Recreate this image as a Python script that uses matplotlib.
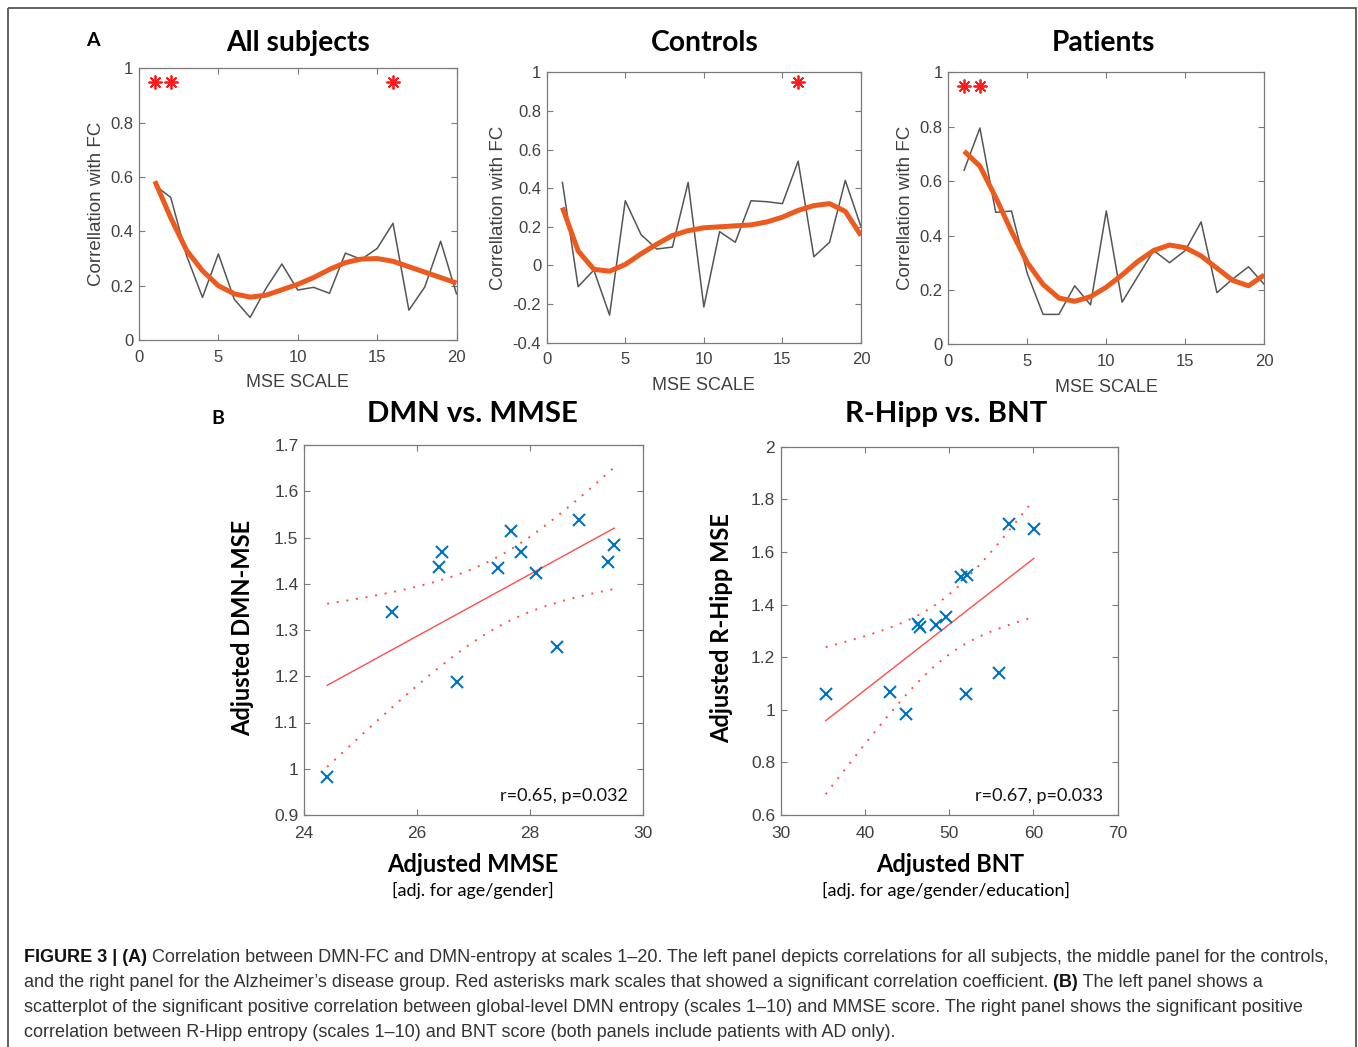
import numpy as np
import matplotlib
matplotlib.use('Agg')
import matplotlib.pyplot as plt
from matplotlib.patches import Rectangle
from matplotlib.ticker import FuncFormatter

W, H = 1358, 1047
plt.rcParams['axes.unicode_minus'] = False

# ---- Panel A data: correlation with FC per MSE scale ----
scales = np.arange(1, 21)
all_raw = [0.57, 0.525, 0.31, 0.157, 0.317, 0.15, 0.083, 0.19, 0.28, 0.184,
           0.194, 0.172, 0.32, 0.297, 0.337, 0.43, 0.11, 0.195, 0.364, 0.17]
all_smooth = [0.585, 0.45, 0.33, 0.255, 0.2, 0.17, 0.158, 0.165, 0.185, 0.205,
              0.23, 0.26, 0.285, 0.298, 0.3, 0.29, 0.27, 0.25, 0.23, 0.21]
all_sig = [1, 2, 16]

ctrl_raw = [0.43, -0.11, -0.024, -0.257, 0.335, 0.16, 0.085, 0.095, 0.43, -0.215,
            0.175, 0.12, 0.335, 0.33, 0.32, 0.54, 0.045, 0.12, 0.44, 0.2]
ctrl_smooth = [0.3, 0.075, -0.02, -0.03, 0.005, 0.06, 0.11, 0.155, 0.18, 0.195,
               0.2, 0.205, 0.21, 0.225, 0.25, 0.285, 0.31, 0.32, 0.28, 0.155]
ctrl_sig = [16]

pat_raw = [0.64, 0.795, 0.485, 0.49, 0.26, 0.11, 0.11, 0.215, 0.145, 0.49,
           0.155, 0.25, 0.345, 0.3, 0.345, 0.45, 0.19, 0.24, 0.285, 0.22]
pat_smooth = [0.71, 0.655, 0.54, 0.415, 0.3, 0.22, 0.17, 0.158, 0.175, 0.21,
              0.255, 0.305, 0.345, 0.365, 0.355, 0.325, 0.28, 0.235, 0.215, 0.255]
pat_sig = [1, 2]

# ---- Panel B data: AD patients only ----
mmse = [24.41, 25.55, 26.39, 26.45, 26.71, 27.43, 27.67, 27.84, 28.11, 28.47, 28.87, 29.38, 29.49]
dmn_mse = [0.983, 1.339, 1.437, 1.468, 1.188, 1.433, 1.514, 1.468, 1.423, 1.263, 1.537, 1.446, 1.484]

bnt = [35.34, 43.02, 44.84, 46.26, 46.58, 48.44, 49.67, 51.41, 52.12, 52.04, 55.88, 57.11, 60.04]
hipp_mse = [1.059, 1.067, 0.985, 1.325, 1.316, 1.322, 1.351, 1.505, 1.513, 1.061, 1.141, 1.707, 1.687]

# colours / fonts
tick_font = 'Liberation Sans'
cal_font = 'Lato'
axis_grey = '#7a7a7a'
label_grey = '#404040'
orange = '#ec5a1e'
star_red = '#ff1a1a'
fit_red = '#ff4d4d'
blue = '#0072BD'


def px_axes(left, top, right, bottom):
    return fig.add_axes([left / W, 1 - bottom / H, (right - left) / W, (bottom - top) / H])


def matlab_style(ax, size):
    for s in ax.spines.values():
        s.set_color(axis_grey)
        s.set_linewidth(0.9)
    ax.tick_params(direction='in', top=True, right=True, length=4, width=0.8,
                   color=axis_grey, labelcolor=label_grey, labelsize=size)
    ax.xaxis.set_major_formatter(FuncFormatter(lambda v, p: f'{v:g}'))
    ax.yaxis.set_major_formatter(FuncFormatter(lambda v, p: f'{v:g}'))
    for lab in ax.get_xticklabels() + ax.get_yticklabels():
        lab.set_fontfamily(tick_font)


def fit_band(x, y, t_crit=2.201):
    # least squares line + 95% CI of the mean response (df = n - 2 = 11)
    x = np.asarray(x)
    y = np.asarray(y)
    n = len(x)
    slope, icpt = np.polyfit(x, y, 1)
    xs = np.linspace(x.min(), x.max(), 100)
    yhat = slope * xs + icpt
    s = np.sqrt(np.sum((y - (slope * x + icpt)) ** 2) / (n - 2))
    se = s * np.sqrt(1 / n + (xs - x.mean()) ** 2 / np.sum((x - x.mean()) ** 2))
    return xs, yhat, yhat - t_crit * se, yhat + t_crit * se


fig = plt.figure(figsize=(W / 100, H / 100), dpi=100)

# ---- Panel A ----
top_panels = [
    (all_raw, all_smooth, all_sig, (0, 1), np.arange(0, 1.01, 0.2), (139, 68.5, 456.5, 340)),
    (ctrl_raw, ctrl_smooth, ctrl_sig, (-0.4, 1), np.arange(-0.4, 1.01, 0.2), (546.7, 72.3, 861, 342.7)),
    (pat_raw, pat_smooth, pat_sig, (0, 1), np.arange(0, 1.01, 0.2), (948.3, 72.3, 1264.3, 344.3)),
]
for raw, smooth, sig, ylim, yticks, box in top_panels:
    ax = px_axes(*box)
    ax.plot(scales, raw, color='#555555', lw=1.1)
    ax.plot(scales, smooth, color=orange, lw=3.6, solid_capstyle='butt')
    ax.plot(sig, [0.95] * len(sig), ls='none', marker=(8, 2, 0), ms=10, mew=1.3, color=star_red)
    ax.set_xlim(0, 20)
    ax.set_ylim(*ylim)
    ax.set_xticks([0, 5, 10, 15, 20])
    ax.set_yticks(np.round(yticks, 1))
    matlab_style(ax, 12)
    ax.tick_params(axis='x', pad=7)
    ax.tick_params(axis='y', pad=4)
    ax.set_xlabel('MSE SCALE', fontsize=13, color=label_grey, family=tick_font, labelpad=7)
    ax.set_ylabel('Correllation with FC', fontsize=13.5, color=label_grey, family=tick_font, labelpad=4)

# ---- Panel B ----
bottom_panels = [
    (mmse, dmn_mse, (24, 30), np.arange(24, 30.1, 2), (0.9, 1.7), np.arange(0.9, 1.71, 0.1),
     'r=0.65, p=0.032', (304, 445, 643, 815)),
    (bnt, hipp_mse, (30, 70), np.arange(30, 71, 10), (0.6, 2.0), np.arange(0.6, 2.01, 0.2),
     'r=0.67, p=0.033', (780.7, 446.7, 1117.7, 815)),
]
for x, y, xlim, xticks, ylim, yticks, stat, box in bottom_panels:
    ax = px_axes(*box)
    xs, yhat, lo, hi = fit_band(x, y)
    ax.plot(xs, yhat, color=fit_red, lw=1.0)
    ax.plot(xs, lo, color=fit_red, lw=1.4, ls=(0, (1, 4)))
    ax.plot(xs, hi, color=fit_red, lw=1.4, ls=(0, (1, 4)))
    ax.plot(x, y, ls='none', marker='x', ms=8, mew=1.5, color=blue)
    ax.set_xlim(*xlim)
    ax.set_ylim(*ylim)
    ax.set_xticks(xticks)
    ax.set_yticks(np.round(yticks, 1))
    matlab_style(ax, 12.5)
    ax.tick_params(axis='x', pad=8)
    ax.tick_params(axis='y', pad=4)
    ax.text(0.955, 0.03, stat, transform=ax.transAxes, ha='right', va='bottom',
            fontsize=13, family=cal_font, color='#111111')

# ---- overlay for titles, labels, frame and caption (pixel coords) ----
ov = fig.add_axes([0, 0, 1, 1])
ov.set_xlim(0, W)
ov.set_ylim(H, 0)
ov.axis('off')
ov.patch.set_visible(False)
ov.add_patch(Rectangle((8, 8), W - 10, H + 20, fill=False, ec='#555555', lw=1.3, clip_on=False))

ov.text(93, 41, 'A', fontsize=14, fontweight='bold', family=cal_font, ha='center', va='center')
ov.text(218, 418, 'B', fontsize=14, fontweight='bold', family=cal_font, ha='center', va='center')
for txt, cx, cy, fs in [('All subjects', 298, 43, 20.3), ('Controls', 705, 43, 20.3),
                        ('Patients', 1103, 43, 20.3), ('DMN vs. MMSE', 472, 414, 21.2),
                        ('R-Hipp vs. BNT', 946, 414, 21.2)]:
    ov.text(cx, cy, txt, fontsize=fs, fontweight='bold', family=cal_font, ha='center', va='center')

ov.text(473, 864, 'Adjusted MMSE', fontsize=17, fontweight='bold', family=cal_font, ha='center', va='center')
ov.text(473, 890, '[adj. for age/gender]', fontsize=13, family=cal_font, ha='center', va='center')
ov.text(950, 864, 'Adjusted BNT', fontsize=17, fontweight='bold', family=cal_font, ha='center', va='center')
ov.text(946, 890, '[adj. for age/gender/education]', fontsize=13, family=cal_font, ha='center', va='center')
ov.text(243, 628, 'Adjusted DMN-MSE', fontsize=17, fontweight='bold', family=cal_font,
        ha='center', va='center', rotation=90)
ov.text(722, 628, 'Adjusted R-Hipp MSE', fontsize=17, fontweight='bold', family=cal_font,
        ha='center', va='center', rotation=90)

# caption, with bold pieces chained after each other
caption = [
    [('FIGURE 3 | (A)', True), (' Correlation between DMN-FC and DMN-entropy at scales 1\u201320. The left panel '
                                'depicts correlations for all subjects, the middle panel for the controls,', False)],
    [('and the right panel for the Alzheimer\u2019s disease group. Red asterisks mark scales that showed a '
      'significant correlation coefficient.', False), (' (B)', True), (' The left panel shows a', False)],
    [('scatterplot of the significant positive correlation between global-level DMN entropy (scales 1\u201310) '
      'and MMSE score. The right panel shows the significant positive', False)],
    [('correlation between R-Hipp entropy (scales 1\u201310) and BNT score (both panels include patients '
      'with AD only).', False)],
]
cap_size = 13.0
for i, parts in enumerate(caption):
    prev = None
    for s, bold in parts:
        kw = dict(fontsize=cap_size, family='Liberation Sans', va='bottom',
                  fontweight='bold' if bold else 'normal',
                  color='#111111' if bold else '#333333')
        if prev is None:
            prev = ov.text(24, 966 + 25 * i, s, ha='left', **kw)
        else:
            prev = ov.annotate(s, xy=(1, 0), xycoords=prev, ha='left', **kw)

fig.savefig('out.png', dpi=100)
